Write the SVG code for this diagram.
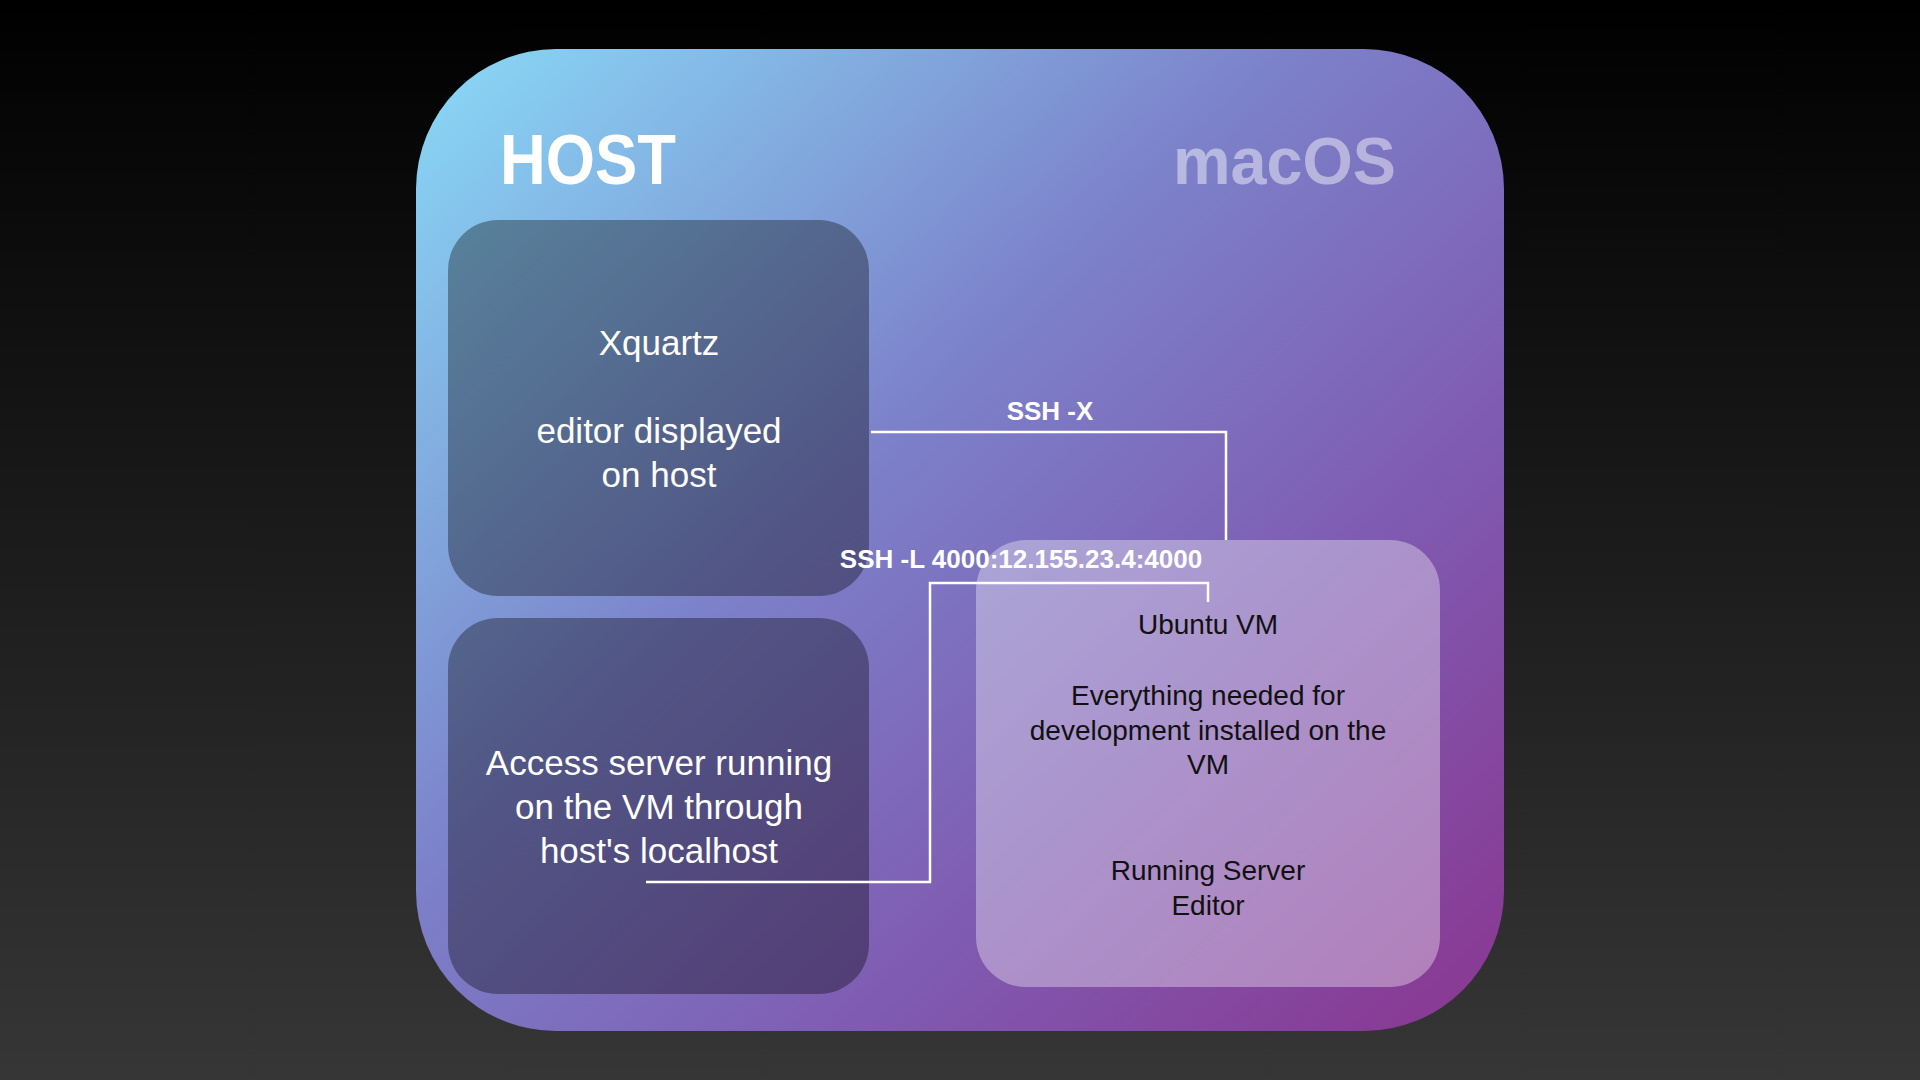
<svg xmlns="http://www.w3.org/2000/svg" width="1920" height="1080" viewBox="0 0 1920 1080">
<defs>
<linearGradient id="bg" x1="0" y1="0" x2="0" y2="1">
<stop offset="0" stop-color="#000000"/>
<stop offset="1" stop-color="#363636"/>
</linearGradient>
<linearGradient id="host" gradientUnits="userSpaceOnUse" x1="460" y1="50" x2="1390" y2="1030">
<stop offset="0" stop-color="#88D6F5"/>
<stop offset="0.42" stop-color="#7C82CA"/>
<stop offset="0.72" stop-color="#7F5CB2"/>
<stop offset="1" stop-color="#883C96"/>
</linearGradient>
<style>
.dark{fill:#000000;fill-opacity:0.34}
.light{fill:#ffffff;fill-opacity:0.35}
.wt{font-family:"Liberation Sans",Arial,sans-serif;font-size:35px;fill:#ffffff;text-anchor:middle}
.bt{font-family:"Liberation Sans",Arial,sans-serif;font-size:28px;fill:#111111;text-anchor:middle}
.lbl{font-family:"Liberation Sans",Arial,sans-serif;font-size:26px;font-weight:bold;fill:#ffffff;text-anchor:middle}
.conn{fill:none;stroke:#ffffff;stroke-width:2.5}
</style>
</defs>
<rect width="1920" height="1080" fill="url(#bg)"/>
<g id="host-frame">
<rect x="416" y="49" width="1088" height="982" rx="140" ry="140" fill="url(#host)"/>
<text x="500" y="184" font-family="'Liberation Sans',Arial,sans-serif" font-size="70" font-weight="bold" fill="#ffffff" textLength="176" lengthAdjust="spacingAndGlyphs">HOST</text>
<text x="1173" y="184" font-family="'Liberation Sans',Arial,sans-serif" font-size="66" font-weight="bold" fill="#ffffff" fill-opacity="0.45" textLength="223" lengthAdjust="spacingAndGlyphs">macOS</text>
</g>
<g id="xquartz">
<rect class="dark" x="448" y="220" width="421" height="376" rx="50"/>
<text class="wt" x="659" y="355">Xquartz</text>
<text class="wt" x="659" y="443">editor displayed</text>
<text class="wt" x="659" y="487">on host</text>
</g>
<g id="access">
<rect class="dark" x="448" y="618" width="421" height="376" rx="50"/>
<text class="wt" x="659" y="775">Access server running</text>
<text class="wt" x="659" y="819">on the VM through</text>
<text class="wt" x="659" y="863">host's localhost</text>
</g>
<g id="ubuntu-vm">
<rect class="light" x="976" y="540" width="464" height="447" rx="50"/>
<text class="bt" x="1208" y="634">Ubuntu VM</text>
<text class="bt" x="1208" y="705">Everything needed for</text>
<text class="bt" x="1208" y="740">development installed on the</text>
<text class="bt" x="1208" y="774">VM</text>
<text class="bt" x="1208" y="880">Running Server</text>
<text class="bt" x="1208" y="915">Editor</text>
</g>
<g id="connectors">
<polyline class="conn" points="871,432 1226,432 1226,540"/>
<text class="lbl" x="1050" y="420">SSH -X</text>
<polyline class="conn" points="646,882 930,882 930,583 1208,583 1208,602"/>
<text class="lbl" x="1021" y="568">SSH -L 4000:12.155.23.4:4000</text>
</g>
</svg>
